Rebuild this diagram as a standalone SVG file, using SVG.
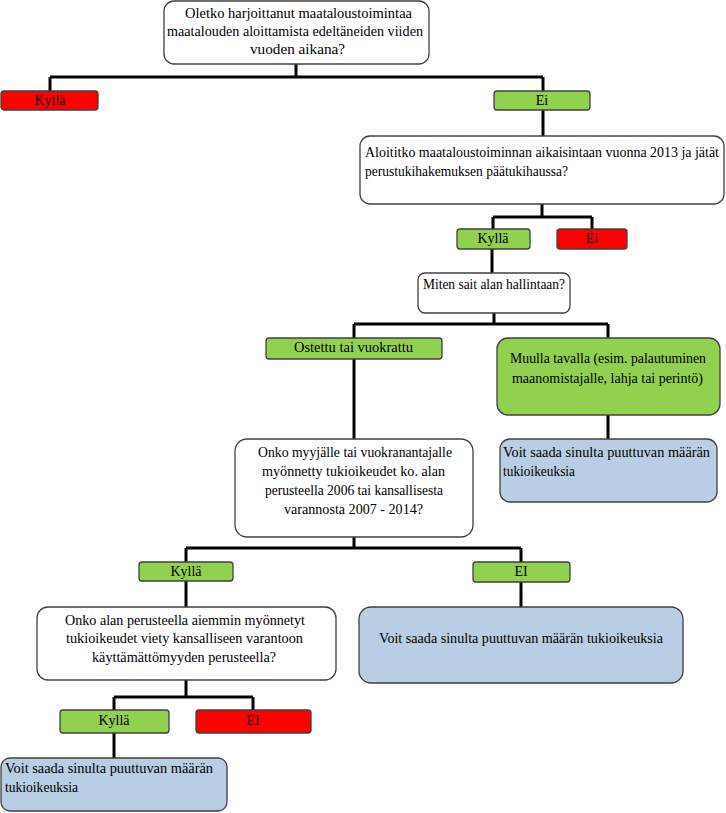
<svg xmlns="http://www.w3.org/2000/svg" width="726" height="813" viewBox="0 0 726 813">
<style>
.box{stroke:#404040;stroke-width:1.3}
.w{fill:#ffffff}
.g{fill:#92D050}
.r{fill:#FF0000}
.b{fill:#B9CDE4}
.c{text-anchor:middle}
.conn{fill:none;stroke:#000;stroke-width:3}
</style>
<rect width="726" height="813" fill="#fff"/>
<g id="connectors">
<path class="conn" d="M296 64V77M50 77H543M50 77V91M543 77V136"/>
<path class="conn" d="M542 204V217M493 217H592M493 217V229M592 217V229M492 249V273"/>
<path class="conn" d="M494 313V324M354 324H608M354 324V338M608 324V338M608 415V439M354 359V439"/>
<path class="conn" d="M354 537V548M186 548H521M186 548V562M521 548V562M186 581V607M521 582V607"/>
<path class="conn" d="M186 680V697M114 697H253M114 697V710M253 697V710M114 733V758"/>
</g>
<g font-family="'Liberation Serif', 'DejaVu Serif', serif" font-size="14" fill="#000">
<g id="q1"><rect class="box w" x="164" y="1" width="265" height="63" rx="10"/>
<text class="c" x="298.5" y="18" textLength="227" lengthAdjust="spacingAndGlyphs">Oletko harjoittanut maataloustoimintaa</text>
<text class="c" x="295" y="36" textLength="256" lengthAdjust="spacingAndGlyphs">maatalouden aloittamista edeltäneiden viiden</text>
<text class="c" x="297.5" y="54" textLength="95" lengthAdjust="spacingAndGlyphs">vuoden aikana?</text></g>
<g id="n1a"><rect class="box r" x="1" y="91" width="97" height="19" rx="3"/><text class="c" x="50" y="105">Kyllä</text></g>
<g id="n1b"><rect class="box g" x="494" y="91" width="96" height="19" rx="3"/><text class="c" x="542" y="105">Ei</text></g>
<g id="q2"><rect class="box w" x="360" y="136" width="364" height="68" rx="10"/>
<text x="365" y="157" textLength="354" lengthAdjust="spacingAndGlyphs">Aloititko maataloustoiminnan aikaisintaan vuonna 2013 ja jätät</text>
<text x="365" y="176" textLength="203" lengthAdjust="spacingAndGlyphs">perustukihakemuksen päätukihaussa?</text></g>
<g id="n2a"><rect class="box g" x="457" y="229" width="73" height="20" rx="3"/><text class="c" x="493" y="243">Kyllä</text></g>
<g id="n2b"><rect class="box r" x="557" y="229" width="70" height="20" rx="3"/><text class="c" x="592" y="243">Ei</text></g>
<g id="q3"><rect class="box w" x="418" y="273" width="152" height="40" rx="7"/>
<text class="c" x="494" y="289" textLength="142" lengthAdjust="spacingAndGlyphs">Miten sait  alan hallintaan?</text></g>
<g id="n3a"><rect class="box g" x="266" y="338" width="176" height="21" rx="3"/><text class="c" x="353.5" y="352" textLength="119" lengthAdjust="spacingAndGlyphs">Ostettu tai vuokrattu</text></g>
<g id="n3b"><rect class="box g" x="497" y="338" width="223" height="77" rx="11"/>
<text class="c" x="608" y="363" textLength="196" lengthAdjust="spacingAndGlyphs">Muulla tavalla (esim. palautuminen</text>
<text class="c" x="607.5" y="383" textLength="191" lengthAdjust="spacingAndGlyphs">maanomistajalle, lahja tai perintö)</text></g>
<g id="r1"><rect class="box b" x="500" y="439" width="217" height="63" rx="10"/>
<text x="503" y="457" textLength="207" lengthAdjust="spacingAndGlyphs">Voit saada sinulta  puuttuvan määrän</text>
<text x="503" y="476" textLength="72" lengthAdjust="spacingAndGlyphs">tukioikeuksia</text></g>
<g id="q4"><rect class="box w" x="235" y="439" width="238" height="98" rx="12"/>
<text class="c" x="355" y="457" textLength="194" lengthAdjust="spacingAndGlyphs">Onko myyjälle tai vuokranantajalle</text>
<text class="c" x="353.5" y="476" textLength="183" lengthAdjust="spacingAndGlyphs">myönnetty tukioikeudet ko. alan</text>
<text class="c" x="354" y="495" textLength="178" lengthAdjust="spacingAndGlyphs">perusteella 2006 tai kansallisesta</text>
<text class="c" x="353.5" y="514" textLength="139" lengthAdjust="spacingAndGlyphs">varannosta 2007 - 2014?</text></g>
<g id="n4a"><rect class="box g" x="139" y="562" width="94" height="19" rx="3"/><text class="c" x="186" y="576">Kyllä</text></g>
<g id="n4b"><rect class="box g" x="473" y="562" width="97" height="20" rx="3"/><text class="c" x="521" y="576">EI</text></g>
<g id="q5"><rect class="box w" x="37" y="607" width="299" height="73" rx="11"/>
<text class="c" x="185" y="625" textLength="240" lengthAdjust="spacingAndGlyphs">Onko alan perusteella aiemmin myönnetyt</text>
<text class="c" x="184.5" y="643" textLength="237" lengthAdjust="spacingAndGlyphs">tukioikeudet viety kansalliseen varantoon</text>
<text class="c" x="184" y="662" textLength="184" lengthAdjust="spacingAndGlyphs">käyttämättömyyden perusteella?</text></g>
<g id="r2"><rect class="box b" x="359" y="607" width="324" height="76" rx="12"/>
<text class="c" x="521" y="643" textLength="284" lengthAdjust="spacingAndGlyphs">Voit saada sinulta puuttuvan määrän tukioikeuksia</text></g>
<g id="n5a"><rect class="box g" x="60" y="710" width="109" height="23" rx="3"/><text class="c" x="114" y="725">Kyllä</text></g>
<g id="n5b"><rect class="box r" x="196" y="710" width="115" height="23" rx="3"/><text class="c" x="253" y="725">EI</text></g>
<g id="r3"><rect class="box b" x="1" y="758" width="226" height="53" rx="9"/>
<text x="5" y="773" textLength="208" lengthAdjust="spacingAndGlyphs">Voit saada sinulta  puuttuvan määrän</text>
<text x="5" y="792" textLength="73" lengthAdjust="spacingAndGlyphs">tukioikeuksia</text></g>
</g>
</svg>
